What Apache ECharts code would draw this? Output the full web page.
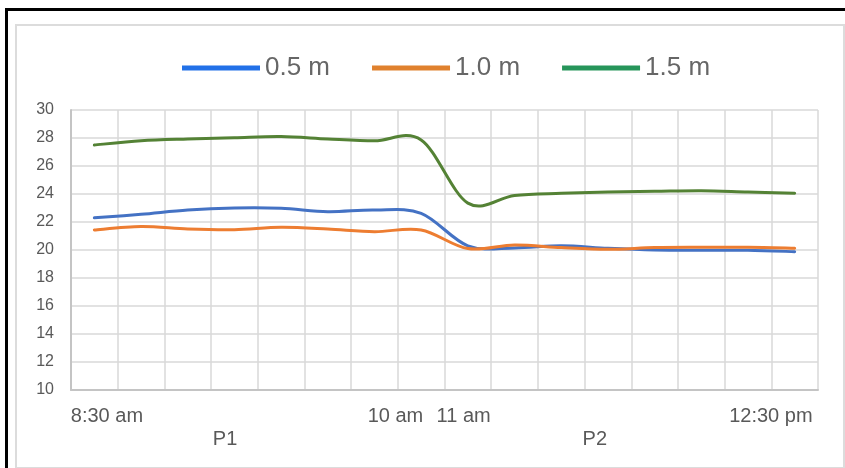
<!DOCTYPE html>
<html>
<head>
<meta charset="utf-8">
<script src="https://cdn.jsdelivr.net/npm/echarts@6/dist/echarts.min.js"></script>
<style>
  html, body { margin: 0; padding: 0; background: #fff; overflow: hidden; }
  #outer { position: absolute; left: 5px; top: 8px; width: 900px; height: 520px;
           border-top: 3px solid #000; border-left: 3px solid #000; }
  #inner { position: absolute; left: 15px; top: 24px; width: 826px; height: 441px;
           border: 2px solid #dcdcdc; }
  #canvas-wrapper { position: absolute; left: 0; top: 0; width: 845px; height: 468px; }
</style>
</head>
<body>
<div id="outer"></div>
<div id="inner"></div>
<div id="canvas-wrapper"></div>
<script>
// 16 readings, one per category slot
var categories = ['1', '2', '3', '4', '5', '6', '7', '8', '9', '10', '11', '12', '13', '14', '15', '16'];

var depth05 = [22.3, 22.55, 22.86, 23.0, 22.98, 22.74, 22.86, 22.62, 20.3, 20.15, 20.3, 20.12, 20.0, 19.98, 19.98, 19.88];
var depth10 = [21.43, 21.67, 21.5, 21.45, 21.62, 21.5, 21.31, 21.43, 20.1, 20.36, 20.17, 20.05, 20.17, 20.19, 20.19, 20.12];
var depth15 = [27.5, 27.8, 27.93, 28.02, 28.1, 27.93, 27.8, 27.86, 23.35, 23.9, 24.05, 24.14, 24.19, 24.24, 24.14, 24.05];

var seriesNames = ['0.5 m', '1.0 m', '1.5 m'];

// second-level labels along the category axis (axis units, 0..16)
var timeTicks = [0.77, 6.95, 8.41, 14.99];
var timeLabels = ['8:30 am', '10 am', '11 am', '12:30 pm'];
var periodTicks = [3.3, 11.22];
var periodLabels = ['P1', 'P2'];

var lineColors = ['#4472c4', '#ed7d31', '#548235'];
var legendColors = ['#2271e8', '#e0812e', '#26955a'];

var myChart = echarts.init(document.getElementById('canvas-wrapper'));

var font = 'Liberation Sans, Arial, sans-serif';
var labelAxis = function(ticks, labels, offset) {
    return {
        type: 'value',
        min: 0,
        max: categories.length,
        position: 'bottom',
        offset: offset,
        axisLine: { show: false },
        axisTick: { show: false },
        splitLine: { show: false },
        axisLabel: {
            customValues: ticks,
            margin: 16,
            color: '#595959',
            fontSize: 20,
            fontFamily: font,
            formatter: function(v) {
                var i = ticks.indexOf(v);
                return i < 0 ? '' : labels[i];
            }
        }
    };
};

// Excel-like smoothed line (Catmull-Rom through the points, in pixel space)
var smoothRender = function(values, color) {
    return function(params, api) {
        if (params.dataIndex !== 0) return null;
        var pts = [];
        for (var k = 0; k < values.length; k++) {
            pts.push(api.coord([k, values[k]]));
        }
        var d = 'M' + pts[0][0] + ' ' + pts[0][1];
        for (var j = 0; j < pts.length - 1; j++) {
            var p0 = pts[Math.max(j - 1, 0)];
            var p1 = pts[j];
            var p2 = pts[j + 1];
            var p3 = pts[Math.min(j + 2, pts.length - 1)];
            var c1x = p1[0] + (p2[0] - p0[0]) / 6, c1y = p1[1] + (p2[1] - p0[1]) / 6;
            var c2x = p2[0] - (p3[0] - p1[0]) / 6, c2y = p2[1] - (p3[1] - p1[1]) / 6;
            d += ' C' + c1x + ' ' + c1y + ' ' + c2x + ' ' + c2y + ' ' + p2[0] + ' ' + p2[1];
        }
        return {
            type: 'path',
            shape: { pathData: d },
            style: { fill: null, stroke: color, lineWidth: 3, lineCap: 'round', lineJoin: 'round' },
            silent: true
        };
    };
};

var allData = [depth05, depth10, depth15];
var series = [];
var legendData = [];
for (var i = 0; i < seriesNames.length; i++) {
    series.push({
        name: seriesNames[i],
        type: 'custom',
        xAxisIndex: 0,
        renderItem: smoothRender(allData[i], lineColors[i]),
        itemStyle: { color: lineColors[i] },
        data: allData[i].map(function(v, k) { return [k, v]; })
    });
    legendData.push({ name: seriesNames[i], itemStyle: { color: legendColors[i] } });
}

var option = {
    animation: false,
    legend: {
        data: legendData,
        left: 182,
        top: 55,
        padding: 0,
        icon: 'rect',
        itemWidth: 78,
        itemHeight: 5,
        itemGap: 42,
        textStyle: { color: '#666', fontSize: 26, fontFamily: font }
    },
    grid: { left: 71, right: 27, top: 110, bottom: 78 },
    xAxis: [
        {
            type: 'category',
            data: categories,
            boundaryGap: true,
            axisLine: { show: true, lineStyle: { color: '#c4c4c4', width: 2 } },
            axisTick: { show: false },
            axisLabel: { show: false },
            splitLine: { show: true, interval: 0, lineStyle: { color: '#d9d9d9', width: 1.5 } }
        },
        labelAxis(timeTicks, timeLabels, 0),
        labelAxis(periodTicks, periodLabels, 23)
    ],
    yAxis: {
        type: 'value',
        min: 10,
        max: 30,
        interval: 2,
        axisLine: { show: true, lineStyle: { color: '#c4c4c4', width: 2 } },
        axisTick: { show: false },
        axisLabel: { color: '#595959', fontSize: 16, fontFamily: font, margin: 17 },
        splitLine: { lineStyle: { color: '#d9d9d9', width: 1.5 } }
    },
    series: series
};
myChart.setOption(option);
</script>
</body>
</html>
